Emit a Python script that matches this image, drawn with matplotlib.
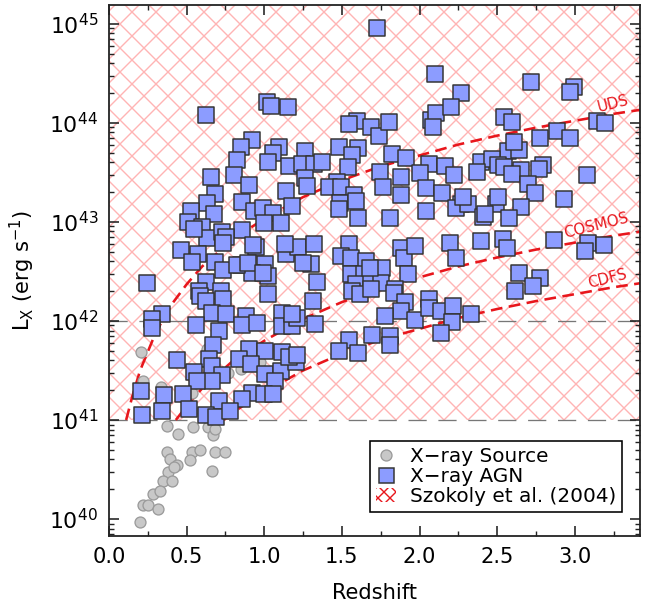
import numpy as np
import matplotlib
matplotlib.use("Agg")
import matplotlib.pyplot as plt
from matplotlib.lines import Line2D
from matplotlib.patches import Patch
from matplotlib.ticker import MultipleLocator, LogLocator

# X-ray AGN (redshift, log10 Lx)
agn_z = [1.723, 2.103, 2.270, 2.720, 2.997, 2.971, 0.624, 1.016, 1.042, 1.151,
         1.595, 1.543, 1.685, 1.736, 1.801, 2.077, 2.109, 2.206, 2.084, 2.547,
         2.598, 3.145, 3.196, 2.887, 2.971, 2.778, 0.920, 0.849, 1.093, 1.055,
         1.023, 0.823, 1.158, 0.804, 0.656, 0.900, 0.682, 1.138, 0.855, 0.630,
         0.932, 0.990, 1.055, 0.675, 0.527, 0.508, 0.598, 0.997, 1.106, 0.855,
         0.630, 0.727, 0.752, 0.733, 0.547, 0.945, 0.463, 0.572, 0.534, 0.682,
         0.733, 0.849, 1.003, 1.023, 0.920, 1.138, 0.624, 0.244, 0.579, 0.720,
         1.023, 0.585, 0.624, 0.733, 0.341, 0.277, 0.277, 0.662, 0.752, 0.559,
         0.881, 0.855, 0.952, 1.113, 1.113, 0.707, 0.669, 0.643, 0.900, 1.003,
         1.113, 0.836, 0.913, 0.437, 0.662, 0.727, 0.662, 0.547, 0.566, 1.003,
         1.106, 1.068, 0.206, 0.354, 0.476, 0.707, 0.920, 0.855, 0.997, 1.055,
         0.212, 0.341, 0.514, 0.624, 0.688, 0.778, 1.479, 1.601, 1.563, 1.260,
         1.241, 1.318, 1.370, 1.820, 1.910, 2.064, 2.167, 2.225, 1.537, 1.743,
         1.768, 1.878, 2.000, 2.039, 2.148, 2.270, 2.232, 1.260, 1.273, 1.177,
         1.466, 1.415, 1.492, 1.576, 1.486, 1.479, 1.588, 1.601, 1.813, 1.884,
         2.045, 1.215, 1.318, 1.543, 1.492, 1.556, 1.653, 1.556, 1.640, 1.588,
         1.685, 1.756, 1.749, 1.884, 1.897, 1.974, 1.923, 1.839, 2.199, 2.238,
         1.299, 1.338, 1.132, 1.248, 1.312, 1.325, 2.572, 2.643, 2.611, 2.399,
         2.469, 2.508, 2.547, 2.797, 2.772, 2.656, 2.598, 2.701, 2.746, 3.081,
         2.315, 2.495, 2.508, 2.412, 2.424, 2.656, 2.579, 2.932, 2.399, 2.540,
         2.566, 2.868, 3.087, 3.068, 3.190, 2.643, 2.778, 2.733, 2.617, 2.334,
         2.277, 2.373, 1.563, 1.614, 1.685, 1.833, 1.904, 1.878, 1.775, 1.974,
         2.058, 2.058, 2.141, 2.219, 2.212, 2.141, 1.177, 1.209, 1.177, 1.543,
         1.479, 1.601, 1.691, 1.813, 1.813, 1.203, 1.158, 1.678, 0.926, 0.823,
         0.894, 0.990, 1.209]
agn_logl = [44.96, 44.49, 44.30, 44.41, 44.36, 44.31, 44.08, 44.21, 44.17, 44.16,
            44.02, 43.99, 43.96, 43.87, 44.01, 44.03, 44.10, 44.16, 43.96, 44.06,
            44.01, 44.02, 44.00, 43.92, 43.85, 43.85, 43.83, 43.76, 43.76, 43.69,
            43.60, 43.62, 43.56, 43.47, 43.45, 43.37, 43.28, 43.31, 43.20, 43.19,
            43.11, 43.14, 43.09, 43.08, 43.11, 43.00, 42.95, 42.99, 42.99, 42.92,
            42.84, 42.90, 42.85, 42.79, 42.93, 42.75, 42.72, 42.68, 42.59, 42.59,
            42.51, 42.56, 42.57, 42.45, 42.48, 42.68, 42.39, 42.38, 42.30, 42.30,
            42.27, 42.25, 42.20, 42.22, 42.07, 42.02, 41.93, 42.08, 42.07, 41.96,
            42.05, 41.96, 41.98, 42.08, 41.95, 41.90, 41.76, 41.62, 41.72, 41.70,
            41.69, 41.62, 41.57, 41.61, 41.55, 41.45, 41.39, 41.48, 41.39, 41.46,
            41.49, 41.39, 41.29, 41.25, 41.26, 41.19, 41.27, 41.21, 41.26, 41.26,
            41.05, 41.09, 41.11, 41.05, 41.03, 41.09, 43.76, 43.75, 43.67, 43.72,
            43.58, 43.58, 43.60, 43.68, 43.64, 43.58, 43.56, 43.47, 43.55, 43.50,
            43.35, 43.45, 43.49, 43.34, 43.29, 43.18, 43.14, 43.44, 43.36, 43.16,
            43.40, 43.35, 43.35, 43.27, 43.19, 43.13, 43.21, 43.04, 43.04, 43.27,
            43.11, 42.75, 42.78, 42.78, 42.66, 42.64, 42.60, 42.47, 42.47, 42.37,
            42.38, 42.53, 42.38, 42.74, 42.64, 42.76, 42.47, 42.32, 42.79, 42.64,
            42.57, 42.39, 42.78, 42.58, 42.20, 41.97, 43.72, 43.73, 43.81, 43.60,
            43.63, 43.57, 43.55, 43.57, 43.53, 43.52, 43.48, 43.38, 43.29, 43.47,
            43.18, 43.18, 43.25, 43.05, 43.08, 43.15, 43.04, 43.23, 42.81, 42.83,
            42.74, 42.82, 42.79, 42.71, 42.77, 42.48, 42.43, 42.35, 42.30, 42.07,
            43.25, 43.50, 42.30, 42.27, 42.32, 42.28, 42.19, 42.10, 42.05, 42.01,
            42.22, 42.13, 42.10, 42.15, 41.99, 41.88, 41.95, 42.03, 42.07, 41.81,
            41.70, 41.68, 41.86, 41.85, 41.76, 41.59, 41.64, 42.53, 42.77, 42.56,
            42.58, 42.48, 41.66]

# all X-ray sources (non-AGN part visible)
src_z = [0.206, 0.219, 0.334, 0.630, 0.675, 0.849, 0.765, 0.971, 0.534, 0.373,
         0.444, 0.540, 0.637, 0.669, 0.682, 0.373, 0.392, 0.437, 0.534, 0.585,
         0.521, 0.682, 0.746, 0.379, 0.347, 0.662, 0.283, 0.328, 0.219, 0.251,
         0.315, 0.199, 0.405, 0.418]
src_logl = [41.69, 41.39, 41.33, 41.72, 41.49, 41.51, 41.47, 41.59, 41.27, 40.94,
            40.86, 40.93, 40.93, 40.85, 40.91, 40.68, 40.61, 40.55, 40.68, 40.70,
            40.60, 40.68, 40.68, 40.48, 40.38, 40.49, 40.25, 40.28, 40.14, 40.14,
            40.10, 39.97, 40.38, 40.53]

# flux limit curves
uds_z = [0.11, 0.15, 0.2, 0.3, 0.4, 0.5, 0.6, 0.8, 1.0, 1.25, 1.5, 1.75, 2.0,
         2.25, 2.5, 2.75, 3.0, 3.25, 3.42]
uds_logl = [41.0, 41.24, 41.50, 41.88, 42.16, 42.37, 42.55, 42.83, 43.03, 43.25,
            43.42, 43.56, 43.67, 43.78, 43.87, 43.95, 44.02, 44.09, 44.13]
cosmos_z = [0.43, 0.5, 0.6, 0.8, 1.0, 1.25, 1.5, 1.75, 2.0, 2.25, 2.5, 2.75,
            3.0, 3.25, 3.42]
cosmos_logl = [41.0, 41.14, 41.32, 41.60, 41.80, 42.02, 42.19, 42.33, 42.44,
               42.55, 42.64, 42.72, 42.79, 42.86, 42.90]
cdfs_z = [0.74, 0.8, 1.0, 1.25, 1.5, 1.75, 2.0, 2.25, 2.5, 2.75, 3.0, 3.25, 3.42]
cdfs_logl = [41.0, 41.08, 41.28, 41.50, 41.67, 41.81, 41.92, 42.03, 42.12,
             42.20, 42.27, 42.34, 42.38]

labels = ['X\u2212ray Source', 'X\u2212ray AGN', 'Szokoly et al. (2004)']

# dpi 72 -> 1 pt == 1 px
plt.rcParams['hatch.linewidth'] = 1.4
plt.rcParams['font.size'] = 21

fig = plt.figure(figsize=(657 / 72, 609 / 72), dpi=72)
ax = fig.add_axes([0.166, 0.120, 0.808, 0.872])
ax.set_yscale('log')
xmax = 3.42
ax.set_xlim(0, xmax)
ax.set_ylim(10 ** 39.83, 10 ** 45.19)

# hatched AGN region
hatch_col = '#ffb4b4'
ax.fill_between([0, xmax], 1e41, 10 ** 45.19, facecolor='none',
                edgecolor=hatch_col, hatch='x', linewidth=0, zorder=0)

# reference lines
ax.axhline(1e41, color='#777777', lw=1.3, dashes=(14, 9), zorder=1)
ax.axhline(1e42, color='#777777', lw=1.3, dashes=(14, 9), zorder=1)

red = '#e8161c'
for zz, ll in [(uds_z, uds_logl), (cosmos_z, cosmos_logl), (cdfs_z, cdfs_logl)]:
    ax.plot(zz, 10 ** np.array(ll), color=red, lw=2.6, dashes=(4.5, 2.5), zorder=2)

ax.text(3.25, 10 ** 44.19, 'UDS', color=red, fontsize=15, rotation=14,
        ha='center', va='center', zorder=2)
ax.text(3.14, 10 ** 42.96, 'COSMOS', color=red, fontsize=15, rotation=14,
        ha='center', va='center', zorder=2)
ax.text(3.21, 10 ** 42.43, 'CDFS', color=red, fontsize=15, rotation=14,
        ha='center', va='center', zorder=2)

ax.scatter(src_z, 10 ** np.array(src_logl), s=120, marker='o', facecolor='#c8c8c8',
           edgecolor='#9a9a9a', linewidth=1.3, zorder=3)
ax.scatter(agn_z, 10 ** np.array(agn_logl), s=240, marker='s', facecolor='#8c9cff',
           edgecolor='#333333', linewidth=1.5, zorder=4)

ax.xaxis.set_major_locator(MultipleLocator(0.5))
ax.xaxis.set_minor_locator(MultipleLocator(0.25))
ax.yaxis.set_major_locator(LogLocator(base=10, numticks=20))
ax.yaxis.set_minor_locator(LogLocator(base=10, subs=np.arange(2, 10), numticks=20))
ax.tick_params(which='both', direction='in', top=True, right=True, color='#222222')
ax.tick_params(which='major', length=10, width=1.6, pad=11)
ax.tick_params(which='minor', length=5, width=1.4)
ax.tick_params(axis='y', which='major', labelsize=22)
for s in ax.spines.values():
    s.set_linewidth(1.8)
    s.set_color('#222222')

ax.set_xlabel('Redshift', labelpad=16)
ax.set_ylabel('L$_\\mathrm{X}$ (erg s$^{-1}$)', labelpad=12)

handles = [
    Line2D([], [], ls='none', marker='o', ms=11, mfc='#c8c8c8', mec='#9a9a9a', mew=1.3),
    Line2D([], [], ls='none', marker='s', ms=15, mfc='#8c9cff', mec='#333333', mew=1.5),
    Patch(facecolor='none', edgecolor=red, hatch='xx', linewidth=0),
]
leg = ax.legend(handles, labels, loc='lower right', bbox_to_anchor=(0.966, 0.045),
                borderaxespad=0, fancybox=False, edgecolor='black', framealpha=1,
                fontsize=20, handlelength=1.0, handletextpad=0.7, borderpad=0.3,
                labelspacing=0.05)
leg.get_frame().set_linewidth(1.6)

fig.savefig('out.png', dpi=72)
